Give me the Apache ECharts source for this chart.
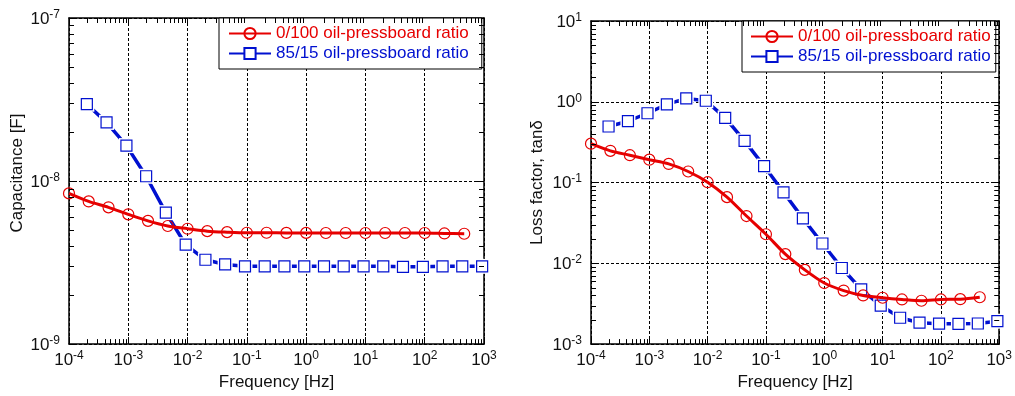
<!DOCTYPE html>
<html><head><meta charset="utf-8">
<script src="https://cdn.jsdelivr.net/npm/echarts@6/dist/echarts.min.js"></script>
<style>html,body{margin:0;padding:0;background:#fff}#c{width:1015px;height:396px}</style>
</head><body><div id="c"></div>
<script>
// ---- data ----
const nameRed = '0/100 oil-pressboard ratio';
const nameBlue = '85/15 oil-pressboard ratio';
const freqRed = [1e-4, 2.15e-4, 4.64e-4, 1e-3, 2.15e-3, 4.64e-3, 1e-2, 2.15e-2, 4.64e-2, 0.1, 0.215, 0.464, 1, 2.15, 4.64, 10, 21.5, 46.4, 100, 215, 464];
const freqBlue = [2e-4, 4.3e-4, 9.3e-4, 2e-3, 4.3e-3, 9.3e-3, 0.02, 0.043, 0.093, 0.2, 0.43, 0.93, 2, 4.3, 9.3, 20, 43, 93, 200, 430, 930];
const capRed = [8.4e-9, 7.5e-9, 6.9e-9, 6.25e-9, 5.7e-9, 5.3e-9, 5.1e-9, 4.93e-9, 4.86e-9, 4.82e-9, 4.82e-9, 4.81e-9, 4.81e-9, 4.8e-9, 4.8e-9, 4.8e-9, 4.8e-9, 4.8e-9, 4.8e-9, 4.77e-9, 4.75e-9];
const capBlue = [2.96e-8, 2.29e-8, 1.65e-8, 1.07e-8, 6.4e-9, 4.07e-9, 3.29e-9, 3.08e-9, 3.0e-9, 3.0e-9, 3.0e-9, 3.0e-9, 3.0e-9, 3.0e-9, 3.0e-9, 3.0e-9, 2.98e-9, 2.98e-9, 3.0e-9, 3.0e-9, 3.0e-9];
const lossRed = [0.303, 0.247, 0.218, 0.192, 0.170, 0.137, 0.101, 0.066, 0.0385, 0.0229, 0.0130, 0.0083, 0.0057, 0.0046, 0.0040, 0.00375, 0.00357, 0.00344, 0.00357, 0.0036, 0.0038];
const lossBlue = [0.494, 0.575, 0.721, 0.929, 1.10, 1.03, 0.632, 0.328, 0.160, 0.0757, 0.036, 0.0176, 0.00875, 0.00476, 0.0030, 0.00212, 0.00184, 0.00179, 0.00178, 0.0018, 0.00192];
const xRange = [1e-4, 1e3];
const capRange = [1e-9, 1e-7];
const lossRange = [1e-3, 10];

// ---- styling ----
const FONT = 'Liberation Sans, Arial, sans-serif';
const RED = '#e60000';
const BLUE = '#0010d0';
const pair = (xs, ys) => xs.map((x, i) => [x, ys[i]]);

function minorVals(lo, hi) {
  const out = [];
  for (let k = Math.round(Math.log10(lo)); k < Math.round(Math.log10(hi)); k++) {
    for (let m = 2; m <= 9; m++) out.push(m * Math.pow(10, k));
  }
  return out;
}

const labelFmt = v => '{b|10}{e|' + Math.round(Math.log10(v)) + '}';
const rich = {
  b: { fontSize: 17, fontFamily: FONT, color: '#111', verticalAlign: 'bottom' },
  e: { fontSize: 12, fontFamily: FONT, color: '#111', verticalAlign: 'bottom', padding: [0, 0, 7, 0] }
};
const axisLine = { show: true, lineStyle: { color: '#000', width: 1.5 } };
const splitLine = { show: true, lineStyle: { color: '#000', width: 1, type: [3, 2] } };

function xAxes(grid, range) {
  return [
    { type: 'log', logBase: 10, gridIndex: grid, min: range[0], max: range[1], position: 'bottom',
      axisLine, splitLine, axisTick: { inside: true, length: 7, lineStyle: { color: '#000' } },
      axisLabel: { formatter: labelFmt, rich, margin: 6 },
      name: 'Frequency [Hz]', nameLocation: 'middle', nameGap: 26,
      nameTextStyle: { fontSize: 17, fontFamily: FONT, color: '#111' } },
    { type: 'log', logBase: 10, gridIndex: grid, min: range[0], max: range[1], position: 'top',
      axisLine, splitLine: { show: false }, axisTick: { inside: true, length: 7, lineStyle: { color: '#000' } },
      axisLabel: { show: false } }
  ];
}
function yAxes(grid, range, title, gap, pad) {
  return [
    { type: 'log', logBase: 10, gridIndex: grid, min: range[0], max: range[1], position: 'left',
      axisLine, splitLine, axisTick: { inside: true, length: 7, lineStyle: { color: '#000' } },
      axisLabel: { formatter: labelFmt, rich, margin: 9 },
      name: title, nameLocation: 'middle', nameGap: gap,
      nameTextStyle: { fontSize: 17, fontFamily: FONT, color: '#111', padding: pad } },
    { type: 'log', logBase: 10, gridIndex: grid, min: range[0], max: range[1], position: 'right',
      axisLine, splitLine: { show: false }, axisTick: { inside: true, length: 7, lineStyle: { color: '#000' } },
      axisLabel: { show: false } }
  ];
}

function plotSeries(xi, yi, redData, blueData) {
  return [
    { name: nameRed, type: 'line', xAxisIndex: xi, yAxisIndex: yi, data: redData, smooth: 0.3,
      symbol: 'circle', symbolSize: 11, showAllSymbol: true,
      lineStyle: { color: RED, width: 3 }, itemStyle: { color: 'rgba(255,255,255,0)', borderColor: RED, borderWidth: 1.2 },
      z: 5, animation: false },
    { name: nameBlue, type: 'line', xAxisIndex: xi, yAxisIndex: yi, data: blueData,
      symbol: 'rect', symbolSize: 11, showAllSymbol: true,
      lineStyle: { color: BLUE, width: 3.5 }, itemStyle: { color: '#fff', borderColor: BLUE, borderWidth: 1.2 },
      z: 3, animation: false },
    { name: 'halo', type: 'line', xAxisIndex: xi, yAxisIndex: yi, data: blueData,
      symbol: 'rect', symbolSize: 15, showAllSymbol: true, lineStyle: { width: 0, opacity: 0 },
      itemStyle: { color: '#fff', borderWidth: 0 }, z: 3.5, silent: true, animation: false },
    { name: 'marks', type: 'line', xAxisIndex: xi, yAxisIndex: yi, data: blueData,
      symbol: 'rect', symbolSize: 11, showAllSymbol: true, lineStyle: { width: 0, opacity: 0 },
      itemStyle: { color: '#fff', borderColor: BLUE, borderWidth: 1.2 }, z: 4, silent: true, animation: false }
  ];
}

function legend(left, top, pad) {
  return {
    orient: 'vertical', left, top, padding: pad, itemGap: 1, itemWidth: 42, itemHeight: 14,
    backgroundColor: '#fff', borderColor: '#000', borderWidth: 1, z: 10,
    textStyle: { fontSize: 17, fontFamily: FONT, lineHeight: 19 },
    data: [
      { name: nameRed, textStyle: { color: RED } },
      { name: nameBlue, textStyle: { color: BLUE } }
    ]
  };
}

const chart = echarts.init(document.getElementById('c'), null, { renderer: 'canvas' });
chart.setOption({
  animation: false,
  backgroundColor: '#fff',
  grid: [
    { left: 69, top: 18, width: 415, height: 329 },
    { left: 591, top: 21, width: 411, height: 327 }
  ],
  xAxis: [...xAxes(0, xRange), ...xAxes(1, xRange)],
  yAxis: [...yAxes(0, capRange, 'Capacitance [F]', 43, [0, 0, 0, 16]),
          ...yAxes(1, lossRange, 'Loss factor, tan\u03b4', 45, [0, 0, 0, 0])],
  legend: [legend(219, 18, [6, 13, 6, 9]), legend(742, 21, [6, 5, 6, 8])],
  series: [
    ...plotSeries(0, 0, pair(freqRed, capRed), pair(freqBlue, capBlue)),
    ...plotSeries(2, 2, pair(freqRed, lossRed), pair(freqBlue, lossBlue))
  ]
});

// minor ticks (2..9 per decade) on all four frame sides, placed through the chart's own scales
function minorTickGraphics(gridIndex, xr, yr) {
  const L = 5, st = { stroke: '#000', lineWidth: 1 }, out = [];
  const bl = chart.convertToPixel({ gridIndex }, [xr[0], yr[0]]);
  const tr = chart.convertToPixel({ gridIndex }, [xr[1], yr[1]]);
  minorVals(xr[0], xr[1]).forEach(v => {
    const x = Math.round(chart.convertToPixel({ gridIndex }, [v, yr[0]])[0]) + 0.5;
    out.push({ type: 'line', silent: true, z: 50, shape: { x1: x, y1: bl[1], x2: x, y2: bl[1] - L }, style: st });
    out.push({ type: 'line', silent: true, z: 50, shape: { x1: x, y1: tr[1], x2: x, y2: tr[1] + L }, style: st });
  });
  minorVals(yr[0], yr[1]).forEach(v => {
    const y = Math.round(chart.convertToPixel({ gridIndex }, [xr[0], v])[1]) + 0.5;
    out.push({ type: 'line', silent: true, z: 50, shape: { x1: bl[0], y1: y, x2: bl[0] + L, y2: y }, style: st });
    out.push({ type: 'line', silent: true, z: 50, shape: { x1: tr[0], y1: y, x2: tr[0] - L, y2: y }, style: st });
  });
  return out;
}
chart.setOption({
  graphic: { elements: [...minorTickGraphics(0, xRange, capRange), ...minorTickGraphics(1, xRange, lossRange)] }
});
</script></body></html>
